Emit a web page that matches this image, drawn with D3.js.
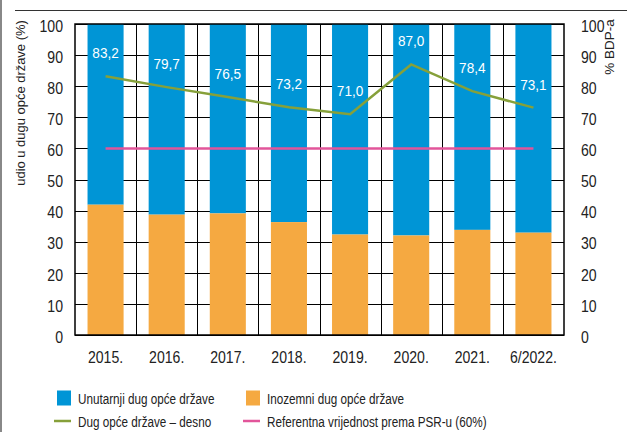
<!DOCTYPE html>
<html><head><meta charset="utf-8">
<script src="https://cdn.jsdelivr.net/npm/d3@7"></script>
<style>
html,body{margin:0;padding:0;background:#fff;}
svg{display:block;font-family:"Liberation Sans",Arial,sans-serif;}
</style></head>
<body>
<svg id="chart" width="635" height="432"></svg>
<script>
const categories = ["2015.","2016.","2017.","2018.","2019.","2020.","2021.","6/2022."];
const foreignShare = [41.9,38.7,39.1,36.3,32.3,32.0,33.8,32.9];
const domesticShare = foreignShare.map(v => 100 - v);
const debtGDP = [83.2,79.7,76.5,73.2,71.0,87.0,78.4,73.1];
const debtLabels = ["83,2","79,7","76,5","73,2","71,0","87,0","78,4","73,1"];
const referenceValue = [60,60,60,60,60,60,60,60];
const yTicks = [0,10,20,30,40,50,60,70,80,90,100];

const colBlue = "#0095d6", colOrange = "#f5a941", colGreen = "#86a03a", colPink = "#e2559a";
const svg = d3.select("#chart");
const L = 75, R = 564, T = 24, B = 335;

const x = d3.scaleBand().domain(categories).range([L, R]).paddingInner(0.41).paddingOuter(0.205);
const xb = d3.scaleBand().domain(categories).range([L, R]);
const yL = d3.scaleLinear().domain([0,100]).range([B, T]);
const yR = d3.scaleLinear().domain([0,100]).range([B, T]);

// condense helper: move x/y into a transform and scale horizontally
function condense(sel, s, rot) {
  sel.each(function(){
    const t = d3.select(this);
    const tx = +t.attr("x") || 0, ty = +t.attr("y") || 0;
    t.attr("x", null).attr("y", null)
     .attr("transform", `translate(${tx},${ty})${rot ? " rotate(" + rot + ")" : ""} scale(${s},1)`);
  });
}

// outer decorations
svg.append("line").attr("x1",1).attr("x2",1).attr("y1",0).attr("y2",432).attr("stroke","#888").attr("stroke-width",2);
svg.append("line").attr("x1",15).attr("x2",627).attr("y1",10.5).attr("y2",10.5).attr("stroke","#333").attr("stroke-width",1);

// grid
const g = svg.append("g");
g.selectAll(".hg").data(yTicks).join("line")
  .attr("x1",L).attr("x2",R).attr("y1",d=>Math.round(yL(d))+0.5).attr("y2",d=>Math.round(yL(d))+0.5)
  .attr("stroke","#000").attr("stroke-width",1);
g.selectAll(".vg").data(categories.slice(1)).join("line")
  .attr("x1",d=>Math.round(xb(d))+0.5).attr("x2",d=>Math.round(xb(d))+0.5)
  .attr("y1",T).attr("y2",B).attr("stroke","#000").attr("stroke-width",1);

// bars
const bars = svg.append("g");
bars.selectAll(".dom").data(categories).join("rect")
  .attr("x",d=>x(d)).attr("width",x.bandwidth())
  .attr("y",(d,i)=>yL(foreignShare[i]+domesticShare[i]))
  .attr("height",(d,i)=>yL(foreignShare[i]) - yL(foreignShare[i]+domesticShare[i]))
  .attr("fill",colBlue);
bars.selectAll(".for").data(categories).join("rect")
  .attr("x",d=>x(d)).attr("width",x.bandwidth())
  .attr("y",(d,i)=>yL(foreignShare[i]))
  .attr("height",(d,i)=>yL(0)-yL(foreignShare[i]))
  .attr("fill",colOrange);

// frame
svg.append("rect").attr("x",L).attr("y",T).attr("width",R-L).attr("height",B-T)
  .attr("fill","none").attr("stroke","#000").attr("stroke-width",1.5);

const cx = d => x(d) + x.bandwidth()/2;
// reference line
svg.append("path").datum(referenceValue)
  .attr("d", d3.line().x((d,i)=>cx(categories[i])).y(d=>yR(d)))
  .attr("fill","none").attr("stroke",colPink).attr("stroke-width",2.5);
// debt line
svg.append("path").datum(debtGDP)
  .attr("d", d3.line().x((d,i)=>cx(categories[i])).y(d=>yR(d)))
  .attr("fill","none").attr("stroke",colGreen).attr("stroke-width",2.5);

// value labels
const vl = svg.append("g").selectAll("text").data(debtGDP).join("text")
  .attr("x",(d,i)=>cx(categories[i]))
  .attr("y",d=>yR(d)-18)
  .attr("text-anchor","middle").attr("fill","#fff").attr("font-size",14)
  .text((d,i)=>debtLabels[i]);
condense(vl, 0.97);

// axes
const axL = svg.append("g").attr("transform",`translate(${L},0)`)
  .call(d3.axisLeft(yL).tickValues(yTicks).tickSize(0).tickPadding(12));
const axR = svg.append("g").attr("transform",`translate(${R},0)`)
  .call(d3.axisRight(yR).tickValues(yTicks).tickSize(0).tickPadding(17));
const axB = svg.append("g").attr("transform",`translate(0,${B})`)
  .call(d3.axisBottom(x).tickSize(0).tickPadding(17));
[axL,axR,axB].forEach(a=>{
  a.select(".domain").remove();
  const txt = a.selectAll("text").attr("font-size",16).attr("fill","#222").attr("font-family","inherit");
  if (a !== axB) txt.attr("dy","0.45em");
  condense(txt, 0.88);
});

// axis titles
const t1 = svg.append("text").attr("x",25).attr("y",103)
  .attr("text-anchor","middle").attr("font-size",13.5).attr("fill","#222")
  .text("udio u dugu opće države (%)");
condense(t1, 0.96, -90);
const t2 = svg.append("text").attr("x",614).attr("y",47)
  .attr("text-anchor","middle").attr("font-size",13.5).attr("fill","#222")
  .text("% BDP-a");
condense(t2, 1.0, -90);

// legend
const leg = svg.append("g").attr("font-size",15.4).attr("fill","#222");
const legItems = [
  {t:"Unutarnji dug opće države", c:colBlue, type:"rect", lx:57, ly:398},
  {t:"Inozemni dug opće države", c:colOrange, type:"rect", lx:246, ly:398},
  {t:"Dug opće države – desno", c:colGreen, type:"line", lx:57, ly:421},
  {t:"Referentna vrijednost prema PSR-u (60%)", c:colPink, type:"line", lx:246, ly:421}
];
legItems.forEach(it=>{
  if(it.type==="rect"){
    leg.append("rect").attr("x",it.lx).attr("y",it.ly-7.5).attr("width",14).attr("height",15).attr("fill",it.c);
  } else {
    leg.append("line").attr("x1",it.lx-3).attr("x2",it.lx+14).attr("y1",it.ly).attr("y2",it.ly).attr("stroke",it.c).attr("stroke-width",2.5);
  }
  const tt = leg.append("text").attr("x",it.lx+21).attr("y",it.ly).attr("dy","0.36em").attr("fill","#222").text(it.t);
  condense(tt, 0.76);
});
</script>
</body></html>
